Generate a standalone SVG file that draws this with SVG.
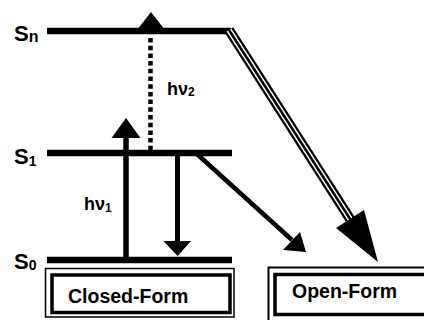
<svg xmlns="http://www.w3.org/2000/svg" width="424" height="320" viewBox="0 0 424 320">
<style>
.lvl{stroke:#000;stroke-width:6.5;fill:none}
.lbl{font-family:"Liberation Sans",Arial,sans-serif;font-weight:bold;fill:#000}
.ln{stroke:#000;fill:none}
.head{fill:#000;stroke:none}
</style>
<rect width="424" height="320" fill="#fff"/>
<g id="level-Sn">
<line class="lvl" x1="47" y1="31" x2="231" y2="31"/>
<text class="lbl" x="14" y="41" font-size="22">S<tspan font-size="16" dy="1">n</tspan></text>
</g>
<g id="level-S1">
<line class="lvl" x1="47" y1="153" x2="232" y2="153"/>
<text class="lbl" x="14" y="164" font-size="22">S<tspan font-size="14" dy="2">1</tspan></text>
</g>
<g id="level-S0">
<line class="lvl" x1="47" y1="260" x2="232" y2="260"/>
<text class="lbl" x="14" y="269" font-size="22">S<tspan font-size="14" dy="1">0</tspan></text>
</g>
<g id="closed-form">
<rect x="45.5" y="268.5" width="188.5" height="48.5" fill="none" stroke="#000" stroke-width="1.5"/>
<rect x="52" y="275" width="178" height="37.5" fill="none" stroke="#000" stroke-width="3.5"/>
<text class="lbl" x="68" y="303" font-size="19.5">Closed-Form</text>
</g>
<g id="open-form">
<rect x="268.5" y="267.5" width="170" height="55" fill="none" stroke="#000" stroke-width="2"/>
<rect x="275" y="274.5" width="160" height="40" fill="none" stroke="#000" stroke-width="3.5"/>
<text class="lbl" x="292" y="298" font-size="19.5">Open-Form</text>
</g>
<g id="connectors">
<line class="ln" x1="126" y1="260" x2="126" y2="136" stroke-width="5.5"/>
<polygon class="head" points="111.5,138 140.5,138 126,118"/>
<text class="lbl" x="84" y="210" font-size="18">hν<tspan font-size="12" dy="2">1</tspan></text>
<line class="ln" x1="150.5" y1="38" x2="150.5" y2="150" stroke-width="4.5" stroke-dasharray="4.5 3.2"/>
<polygon class="head" points="137,30 165,30 151,12"/>
<text class="lbl" x="167" y="95" font-size="18">hν<tspan font-size="12" dy="1">2</tspan></text>
<line class="ln" x1="177.5" y1="153" x2="177.5" y2="244" stroke-width="5"/>
<polygon class="head" points="163.5,241 191,241 177.5,256"/>
<line class="ln" x1="197" y1="154" x2="292" y2="240" stroke-width="4.5"/>
<polygon class="head" points="283,250 300,232 306,252"/>
<line class="ln" x1="229" y1="30" x2="352" y2="222" stroke-width="10"/>
<line stroke="#fff" x1="229" y1="30" x2="352" y2="222" stroke-width="5.5"/>
<line class="ln" x1="229" y1="30" x2="352" y2="222" stroke-width="2.5"/>
<polygon class="head" points="336,228 364,210 378,262"/>
</g>
</svg>
